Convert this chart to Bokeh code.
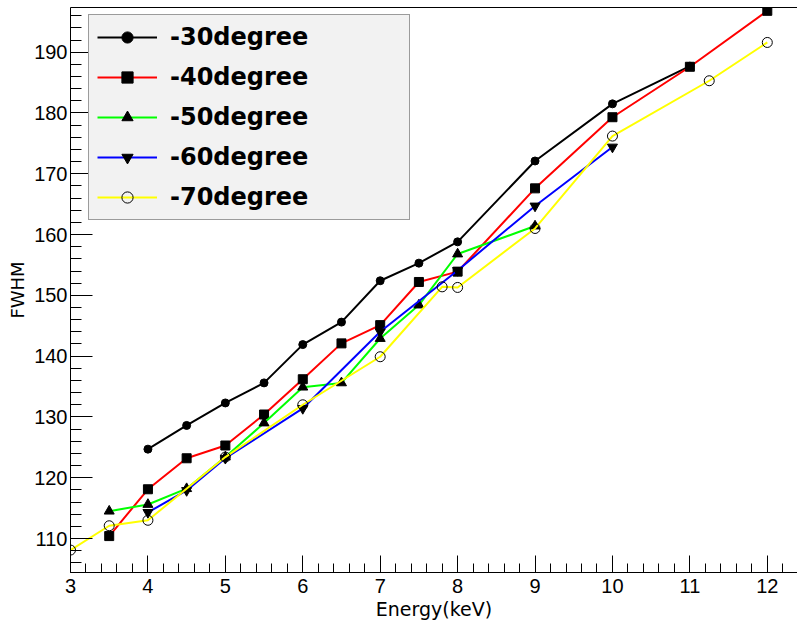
from bokeh.plotting import figure
from bokeh.models import (Range1d, SingleIntervalTicker, FixedTicker, Legend,
                          LegendItem, LinearAxis)
from bokeh.embed import file_html
from bokeh.resources import INLINE

# FWHM versus photon energy for several incidence angles
e30 = [4, 4.5, 5, 5.5, 6, 6.5, 7, 7.5, 8, 9, 10, 11]
f30 = [124.7, 128.6, 132.3, 135.6, 141.9, 145.6, 152.4, 155.3, 158.8, 172.1, 181.5, 187.7]

e40 = [3.5, 4, 4.5, 5, 5.5, 6, 6.5, 7, 7.5, 8, 9, 10, 11, 12]
f40 = [110.4, 118.1, 123.2, 125.3, 130.4, 136.2, 142.1, 145.1, 152.2, 153.9, 167.6, 179.3, 187.6, 196.8]

e50 = [3.5, 4, 4.5, 5, 5.5, 6, 6.5, 7, 7.5, 8, 9]
f50 = [114.5, 115.6, 118.2, 123.4, 129.0, 134.9, 135.6, 142.9, 148.4, 156.8, 161.4]

e60 = [4, 4.5, 5, 6, 7, 8, 9, 10]
f60 = [114.3, 117.9, 123.2, 131.4, 144.0, 154.1, 164.7, 174.4]

e70 = [3, 3.5, 4, 5, 6, 7, 7.8, 8, 9, 10, 11.25, 12]
f70 = [108.1, 112.1, 113.0, 123.4, 132.0, 139.9, 151.4, 151.3, 161.0, 176.2, 185.3, 191.6]

labels = ["-30degree", "-40degree", "-50degree", "-60degree", "-70degree"]

p = figure(width=797, height=625,
           x_range=Range1d(3, 12.39), y_range=Range1d(104.41, 197.35),
           output_backend="svg", toolbar_location=None,
           min_border_left=70, min_border_right=0,
           min_border_top=7, min_border_bottom=53)

p.background_fill_color = "white"
p.border_fill_color = "white"
p.outline_line_color = None
p.xgrid.visible = False
p.ygrid.visible = False

xa = p.below[0]
ya = p.left[0]

# plain top edge of the frame (no ticks, no labels)
top_edge = LinearAxis(ticker=FixedTicker(ticks=[], minor_ticks=[]),
                      axis_line_color="black",
                      major_tick_line_color=None, minor_tick_line_color=None,
                      major_tick_in=0, major_tick_out=0,
                      minor_tick_in=0, minor_tick_out=0)
p.add_layout(top_edge, "above")

# axes with inward ticks
xa.ticker = SingleIntervalTicker(interval=1, num_minor_ticks=5)
ya.ticker = SingleIntervalTicker(interval=10, num_minor_ticks=5)
for ax in (xa, ya):
    ax.major_tick_out = 0
    ax.minor_tick_out = 0
    ax.axis_line_color = "black"
    ax.major_tick_line_color = "black"
    ax.minor_tick_line_color = "black"
    ax.major_label_text_font = "Liberation Sans"
    ax.major_label_text_font_size = "20px"
    ax.major_label_text_color = "black"
    ax.axis_label_text_font = "DejaVu Sans"
    ax.axis_label_text_font_style = "normal"
    ax.axis_label_text_color = "black"

xa.major_tick_in = 17
xa.minor_tick_in = 9
xa.major_label_standoff = 6
xa.axis_label = "Energy(keV)"
xa.axis_label_text_font_size = "19px"
xa.axis_label_standoff = 2

ya.major_tick_in = 22
ya.minor_tick_in = 11
ya.major_label_standoff = 3
ya.axis_label = "FWHM"
ya.axis_label_text_font_size = "18px"
ya.axis_label_standoff = 3

series = [
    (e30, f30, "black", "circle", 8, "black"),
    (e40, f40, "red", "square", 9, "black"),
    (e50, f50, "lime", "triangle", 10, "black"),
    (e60, f60, "blue", "inverted_triangle", 10, "black"),
    (e70, f70, "yellow", "circle", 10, None),
]

items = []
for (xs, ys, col, mk, sz, fill), lab in zip(series, labels):
    lr = p.line(xs, ys, line_color=col, line_width=2)
    sr = p.scatter(xs, ys, marker=mk, size=sz, line_color="black",
                   line_width=1, fill_color=fill)
    items.append(LegendItem(label=lab, renderers=[lr, sr]))

legend = Legend(items=items, location=(18, 352),
                orientation="vertical",
                padding=8, spacing=12, margin=0,
                glyph_width=60, glyph_height=28,
                label_height=28, label_width=231, label_standoff=13,
                label_text_font="DejaVu Sans",
                label_text_font_style="bold",
                label_text_font_size="24px",
                label_text_color="black",
                background_fill_color="#f2f2f2", background_fill_alpha=1.0,
                border_line_color="#444444", border_line_width=1.5)
p.add_layout(legend, "center")

open("out.html", "w").write(file_html(p, INLINE))
